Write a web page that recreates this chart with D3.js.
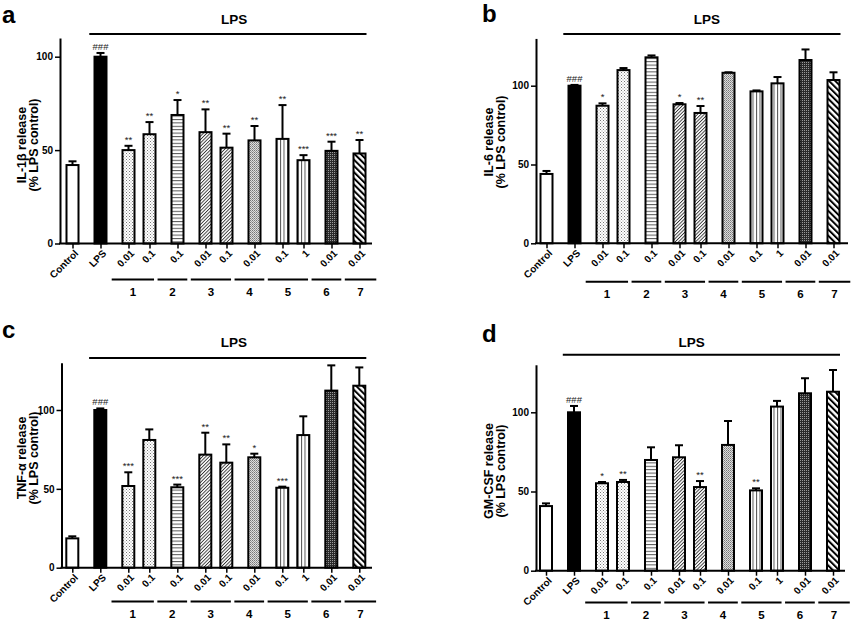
<!DOCTYPE html>
<html><head><meta charset="utf-8">
<script src="https://cdn.jsdelivr.net/npm/d3@7"></script>
<style>body{margin:0;background:#fff}</style>
</head><body>
<svg id="chart" width="854" height="622"></svg>
<script>
// ---------- data ----------
const categories = ["Control","LPS","0.01","0.1","0.1","0.01","0.1","0.01","0.1","1","0.01","0.01"];
const groupKeys  = ["C","L","1","1","2","3","3","4","5","5","6","7"];
const groupLabels = ["1","2","3","4","5","6","7"];
const yTicks = [0, 50, 100];

const il1bMean = [42, 100, 50, 58.5, 68.8, 59.6, 51.3, 55.2, 56, 44.6, 49.6, 48.2];
const il1bErr  = [2, 2, 2.3, 6.5, 8, 12.2, 7.5, 7.7, 18.1, 2.7, 4.9, 7.2];
const il1bSig  = ["", "###", "**", "**", "*", "**", "**", "**", "**", "***", "***", "**"];

const il6Mean = [44, 100, 87.3, 109.9, 118, 88.2, 82.7, 108.2, 96.4, 101.5, 116.3, 103.6];
const il6Err  = [1.9, 0.5, 1.5, 1.3, 1.2, 0.8, 4.4, 0.3, 0.6, 4, 6.7, 4.9];
const il6Sig  = ["", "###", "*", "", "", "*", "**", "", "", "", "", ""];

const tnfMean = [18.6, 100, 51.8, 81, 51, 71.7, 66.6, 70, 50.7, 84.1, 112.3, 115.4];
const tnfErr  = [1.3, 1, 8.7, 6.7, 1.7, 13.9, 11.6, 2.3, 0.7, 11.9, 16, 11.6];
const tnfSig  = ["", "###", "***", "", "***", "**", "**", "*", "***", "", "", ""];

const gmMean = [40.8, 100, 55.2, 56, 69.9, 71.6, 52.8, 79.4, 50.7, 103.6, 112, 113];
const gmErr  = [1.7, 4, 0.8, 1.3, 8, 7.6, 3.8, 15.1, 1.3, 3.6, 9.5, 13.7];
const gmSig  = ["", "###", "*", "**", "", "", "**", "", "**", "", "", ""];

// ---------- layout ----------
const FONT = "'Liberation Sans', Arial, Helvetica, sans-serif";
const panels = [
  {letter:"a", title:["IL-1\u03B2 release","(% LPS control)"], mean:il1bMean, err:il1bErr, sig:il1bSig, yMax:110,
   letterX:2, letterY:23, axisX:60, zeroY:243.5, y100:56.7, x0:72.5, xEnd:372, lpsLineY:34, lpsTextU:23.1, lpsTextY:23.5, groupLineY:279.5, titleX:26, titleCY:145},
  {letter:"b", title:["IL-6 release","(% LPS control)"], mean:il6Mean, err:il6Err, sig:il6Sig, yMax:130,
   letterX:482, letterY:22, axisX:536, zeroY:243.3, y100:85.7, x0:546.5, xEnd:848, lpsLineY:34, lpsTextU:22.9, lpsTextY:23.5, groupLineY:281.7, titleX:493, titleCY:142},
  {letter:"c", title:["TNF-\u03B1 release","(% LPS control)"], mean:tnfMean, err:tnfErr, sig:tnfSig, yMax:130,
   letterX:2, letterY:338, axisX:61.5, zeroY:567.7, y100:410, x0:72.3, xEnd:372, lpsLineY:358, lpsTextU:23.1, lpsTextY:346.7, groupLineY:601.5, titleX:26, titleCY:458},
  {letter:"d", title:["GM-CSF release","(% LPS control)"], mean:gmMean, err:gmErr, sig:gmSig, yMax:130,
   letterX:482, letterY:342, axisX:536, zeroY:570.7, y100:412.3, x0:546, xEnd:845, lpsLineY:354.7, lpsTextU:20.8, lpsTextY:347, groupLineY:602.5, titleX:493, titleCY:471}
];
const UNIT = 7;         // px per slot unit
const BAR_W = 12;       // inner bar width (plus 2px stroke)

// unit positions derived from grouping structure
const units = [];
groupKeys.forEach((g, i) => {
  if (i === 0) units.push(0);
  else units.push(units[i-1] + (g === groupKeys[i-1] ? 3 : 4));
});
// group spans
const groupSpans = groupLabels.map(lbl => {
  const idx = groupKeys.map((g,i)=>g===lbl?i:-1).filter(i=>i>=0);
  return {label:lbl, first:units[idx[0]], last:units[idx[idx.length-1]], n:idx.length};
});
groupSpans.forEach((g, k) => {
  if (k === 0) g.start = g.first - 2.4;
  if (k === groupSpans.length-1) g.end = g.last + 2.4;
  if (k > 0) {
    const p = groupSpans[k-1];
    const b = (p.last + g.first)/2 - (p.n === 2 ? 1.1 : 0.35);
    p.end = b - 0.25; g.start = b + 0.25;
  }
});

const svg = d3.select("#chart");
svg.append("rect").attr("width",854).attr("height",622).attr("fill","#fff");

// ---------- patterns ----------
const defs = svg.append("defs");
function pat(id, w, h, transform, build) {
  const p = defs.append("pattern").attr("id", id).attr("patternUnits","userSpaceOnUse")
    .attr("width", w).attr("height", h);
  if (transform) p.attr("patternTransform", transform);
  build(p);
}
pat("p1", 3, 3, null, p => {
  p.append("rect").attr("width",3).attr("height",3).attr("fill","#fff");
  p.append("rect").attr("x",0).attr("y",0).attr("width",1).attr("height",1).attr("fill","#777");
  p.append("rect").attr("x",1.5).attr("y",1.5).attr("width",1).attr("height",1).attr("fill","#999");
});
pat("p2", 4, 3.4, null, p => {
  p.append("rect").attr("width",4).attr("height",3.4).attr("fill","#fff");
  p.append("rect").attr("width",4).attr("height",1).attr("fill","#555");
});
pat("p3", 2.4, 4, "rotate(45)", p => {
  p.append("rect").attr("width",2.4).attr("height",4).attr("fill","#fff");
  p.append("rect").attr("width",0.9).attr("height",4).attr("fill","#333");
});
pat("p4", 2, 2, null, p => {
  p.append("rect").attr("width",2).attr("height",2).attr("fill","#ddd");
  p.append("rect").attr("x",0).attr("y",0).attr("width",1).attr("height",1).attr("fill","#777");
  p.append("rect").attr("x",1).attr("y",1).attr("width",1).attr("height",1).attr("fill","#999");
});
pat("p5", 3.5, 4, null, p => {
  p.append("rect").attr("width",3.5).attr("height",4).attr("fill","#fff");
  p.append("rect").attr("width",1).attr("height",4).attr("fill","#555");
});
pat("p6", 2, 2, null, p => {
  p.append("rect").attr("width",2).attr("height",2).attr("fill","#2a2a2a");
  p.append("rect").attr("x",0).attr("y",0).attr("width",1).attr("height",1).attr("fill","#999");
});
pat("p7", 4.4, 4, "rotate(-45)", p => {
  p.append("rect").attr("width",4.4).attr("height",4).attr("fill","#fff");
  p.append("rect").attr("width",2).attr("height",4).attr("fill","#000");
});
function fillFor(i) {
  const g = groupKeys[i];
  if (g === "C") return "#fff";
  if (g === "L") return "#000";
  return "url(#p" + g + ")";
}

// ---------- panels ----------
panels.forEach(P => {
  const g = svg.append("g").attr("font-family", FONT);
  const y = d3.scaleLinear().domain([0, 100]).range([P.zeroY, P.y100]);
  const x = d3.scaleLinear().domain([0, 1]).range([P.x0, P.x0 + UNIT]);

  // panel letter
  g.append("text").attr("x", P.letterX).attr("y", P.letterY)
    .attr("font-size", 24).attr("font-weight", "bold").text(P.letter);

  // bars
  g.selectAll("rect.bar").data(P.mean).join("rect").attr("class","bar")
    .attr("x", (d,i) => x(units[i]) - BAR_W/2)
    .attr("y", d => y(d))
    .attr("width", BAR_W)
    .attr("height", d => y(0) - y(d))
    .attr("fill", (d,i) => fillFor(i))
    .attr("stroke", "#000").attr("stroke-width", 2);

  // error bars
  const eb = g.append("g").attr("stroke","#000").attr("stroke-width",2);
  P.mean.forEach((m, i) => {
    const cx = x(units[i]);
    eb.append("line").attr("x1",cx).attr("x2",cx).attr("y1",y(m)).attr("y2",y(m + P.err[i]));
    eb.append("line").attr("x1",cx-4).attr("x2",cx+4).attr("y1",y(m + P.err[i])).attr("y2",y(m + P.err[i]));
  });

  // significance
  g.selectAll("text.sig").data(P.sig).join("text").attr("class","sig")
    .attr("x", (d,i) => x(units[i]))
    .attr("y", (d,i) => y(P.mean[i] + P.err[i]) - 3)
    .attr("text-anchor","middle").attr("font-size", 9.5).attr("fill","#1a1a1a")
    .text(d => d);

  // y axis
  const yAxisScale = d3.scaleLinear().domain([0, P.yMax]).range([y(0), y(P.yMax)]);
  const ya = g.append("g").attr("transform", `translate(${P.axisX},0)`)
    .call(d3.axisLeft(yAxisScale).tickValues(yTicks).tickSize(5).tickSizeOuter(0).tickPadding(2));
  ya.select(".domain").attr("stroke-width", 2);
  ya.selectAll(".tick line").attr("stroke-width", 1.5);
  ya.selectAll(".tick text").attr("font-family", FONT).attr("font-weight","bold").attr("font-size", 10).attr("fill","#000");

  // x axis
  g.append("line").attr("x1", P.axisX - 1).attr("x2", P.xEnd)
    .attr("y1", y(0)).attr("y2", y(0)).attr("stroke","#000").attr("stroke-width", 2);
  const xa = g.append("g").attr("transform", `translate(0,${y(0)})`)
    .call(d3.axisBottom(x).tickValues(units).tickSize(5).tickSizeOuter(0).tickFormat(""));
  xa.select(".domain").remove();
  xa.selectAll(".tick line").attr("stroke-width", 1.5);
  // rotated category labels
  g.selectAll("text.cat").data(categories).join("text").attr("class","cat")
    .attr("transform", (d,i) => `translate(${x(units[i]) + 4},${y(0) + 8}) rotate(-45)`)
    .attr("text-anchor","end").attr("dy","0.35em")
    .attr("font-size", 10).attr("font-weight","bold").attr("fill","#000")
    .text(d => d);

  // LPS line + label
  g.append("line").attr("x1", x(units[1] - 1.6)).attr("x2", x(units[units.length-1] + 1))
    .attr("y1", P.lpsLineY).attr("y2", P.lpsLineY).attr("stroke","#000").attr("stroke-width", 2);
  g.append("text").attr("x", x(P.lpsTextU)).attr("y", P.lpsTextY)
    .attr("text-anchor","middle").attr("font-size", 13.5).attr("font-weight","bold").text("LPS");

  // compound group lines + labels
  groupSpans.forEach(s => {
    g.append("line").attr("x1", x(s.start)).attr("x2", x(s.end))
      .attr("y1", P.groupLineY).attr("y2", P.groupLineY).attr("stroke","#000").attr("stroke-width", 2);
    g.append("text").attr("x", (x(s.start) + x(s.end))/2).attr("y", P.groupLineY + 16)
      .attr("text-anchor","middle").attr("font-size", 11.5).attr("font-weight","bold").text(s.label);
  });

  // y title
  const t = g.append("text").attr("transform", `translate(${P.titleX},${P.titleCY}) rotate(-90)`)
    .attr("text-anchor","middle").attr("font-size", 12.5).attr("font-weight","bold");
  t.append("tspan").attr("x",0).attr("y",0).text(P.title[0]);
  t.append("tspan").attr("x",0).attr("y",11.8).text(P.title[1]);
});
</script>
</body></html>
